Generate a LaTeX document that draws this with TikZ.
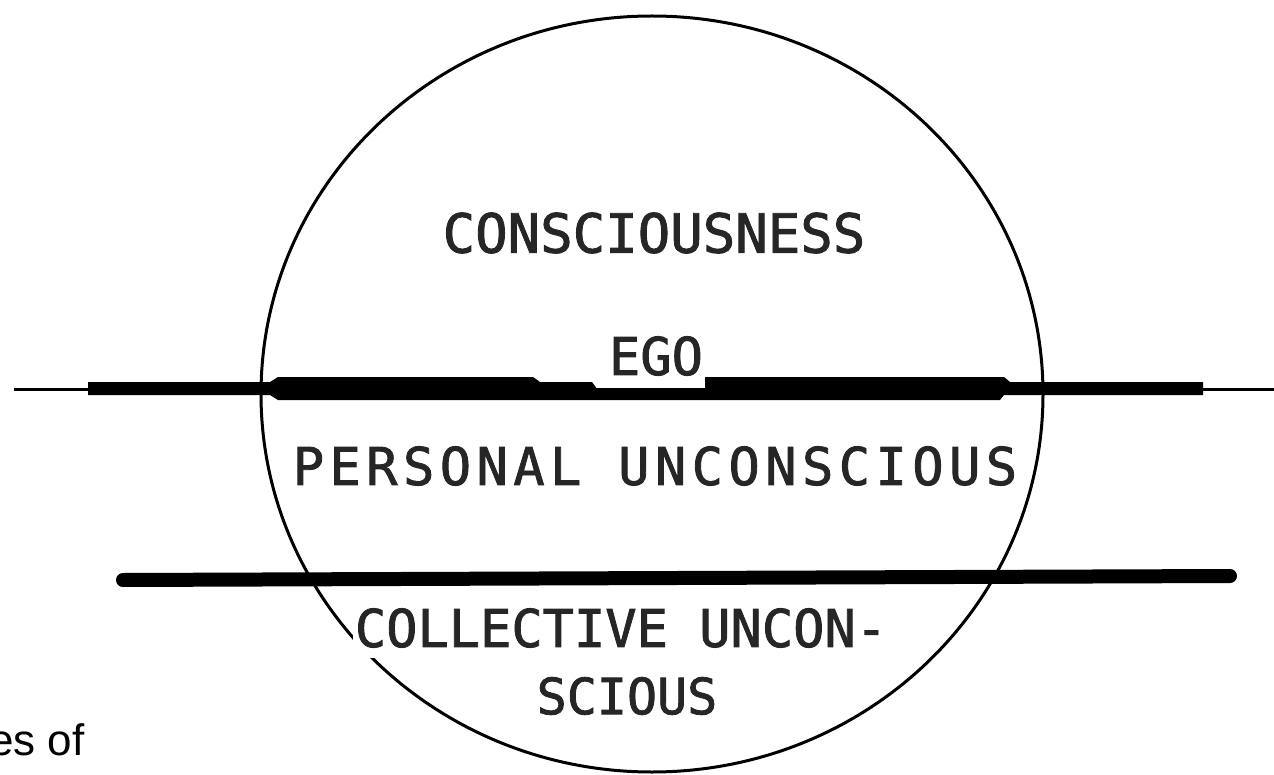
\documentclass[tikz,border=0pt]{standalone}
\usepackage{fontspec}
\usepackage{tikz}
\usetikzlibrary{positioning}
\newfontfamily\lettering{DejaVu Sans Mono}[FakeBold=1.6]
\newfontfamily\captionfont{Liberation Sans}

\begin{document}
\begin{tikzpicture}[x=0.5pt,y=-0.5pt,
  layer/.style={font=\lettering\fontsize{26pt}{30pt}\selectfont, text=black!85, inner sep=1pt}]
\useasboundingbox (0,0) rectangle (1274,775);

% 円
\draw[line width=1.5pt] (652,394) ellipse [x radius=391, y radius=378];

% 境界線 (自我)
\draw[line width=1.5pt] (14,389) -- (1274,389);
\fill (88,382) -- (270,382) -- (278,377) -- (533,377) -- (540,382) -- (592,382)
  -- (597,389) -- (705,389) -- (705,377) -- (1004,377) -- (1010,382) -- (1203,382)
  -- (1203,395) -- (1004,395) -- (1000,400) -- (278,400) -- (270,395) -- (88,395) -- cycle;

% 境界線 (個人的無意識)
\draw[line width=7pt, line cap=round] (123,580) -- (1230,576);

% ラベル
\node[layer, font=\lettering\fontsize{27pt}{31pt}\selectfont] (conscious) at (654,233) {CONSCIOUSNESS};
\node[layer] (ego) at (656,356) {EGO};
\node[layer] (personal) at (655,466) {\addfontfeature{LetterSpace=10.5}PERSONAL UNCONSCIOUS};
\node[layer, fill=white, inner ysep=5pt] (collective) at (621,628) {COLLECTIVE UNCON-};
\node[layer, font=\lettering\fontsize{25pt}{29pt}\selectfont] (collective2) at (627,696) {SCIOUS};

% 見出しの断片
\node[font=\captionfont\fontsize{22pt}{26pt}\selectfont, anchor=base east, inner sep=0pt] (caption) at (85,755) {es of};
\end{tikzpicture}
\end{document}
